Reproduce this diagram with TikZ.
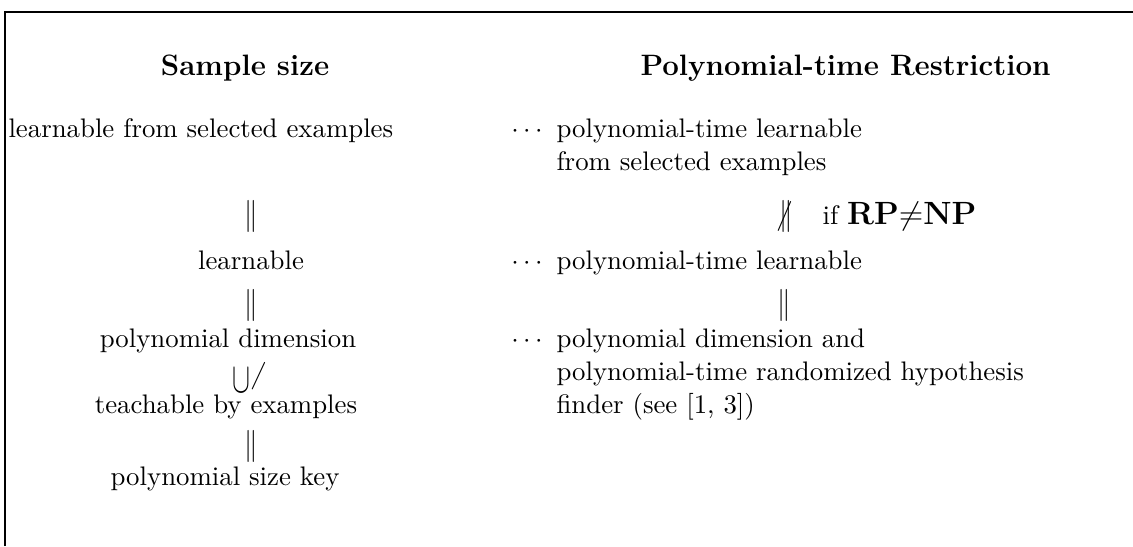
\documentclass[tikz,border=0pt]{standalone}
\usepackage{graphicx}
\begin{document}
\begin{tikzpicture}[x=0.373pt,y=-0.373pt,
  txt/.style={inner sep=0pt, anchor=base, font=\fontsize{10}{12}\selectfont},
  txtl/.style={txt, anchor=base west},
  head/.style={txt, font=\fontsize{11}{13}\selectfont\bfseries},
  sym/.style={inner sep=0pt, anchor=center, font=\fontsize{10}{12}\selectfont},
  frame/.style={line width=0.8pt}]
\useasboundingbox (0,0) rectangle (1133,546);
\coordinate (fb) at (5,546);
\coordinate (fc) at (5,12);
\coordinate (fr) at (1133,12);
\draw[frame] (fb) -- (fc) -- (fr);
% headings
\node[head] (hl) at (245,75) {Sample size};
\node[head, anchor=base west] (hr) at (640,75) {Polynomial-time Restriction};
% row 1
\node[txtl] (l1) at (8,137) {learnable from selected examples};
\node[txt] (d1) at (527,137) {$\cdots$};
\node[txtl] (r1) at (556,137) {polynomial-time learnable};
\node[txtl] (r1b) at (556,170) {from selected examples};
% relations 1
\node[sym] (e1) at (251,216) {\scalebox{1}[1.2]{$\|$}};
\node[sym] (n1) at (786,216) {\scalebox{1}[1.2]{$\mkern-3mu\mathchar"0236\mkern3mu\|$}};
\node[txtl] (c1) at (822,224) {if {\fontsize{11.5}{14}\selectfont$\mathbf{RP}{\neq}\mathbf{NP}$}};
% row 2
\node[txt] (l2) at (251,269) {learnable};
\node[txt] (d2) at (527,269) {$\cdots$};
\node[txtl] (r2) at (556,269) {polynomial-time learnable};
% relations 2
\node[sym] (e2) at (251,305) {\scalebox{1}[1.2]{$\|$}};
\node[sym] (e2r) at (784,305) {\scalebox{1}[1.2]{$\|$}};
% row 3
\node[txt] (l3) at (228,347) {polynomial dimension};
\node[txt] (d3) at (527,347) {$\cdots$};
\node[txtl] (r3) at (556,347) {polynomial dimension and};
\node[txtl] (r3b) at (556,380) {polynomial-time randomized hypothesis};
% relation 3
\node[txtl] (s3) at (232,392) {\scalebox{1}[1.6]{$\cup$}$\mkern-1mu$\raisebox{3pt}{\scalebox{1}[1.1]{$\mathchar"0236$}}$\mkern14mu$};
% row 4
\node[txt] (l4) at (226,413) {teachable by examples};
\node[txtl] (r4) at (556,413) {finder (see [1, 3])};
% relation 4
\node[sym] (e4) at (251,446) {\scalebox{1}[1.2]{$\|$}};
% row 5
\node[txt] (l5) at (225,485) {polynomial size key};
\end{tikzpicture}
\end{document}
